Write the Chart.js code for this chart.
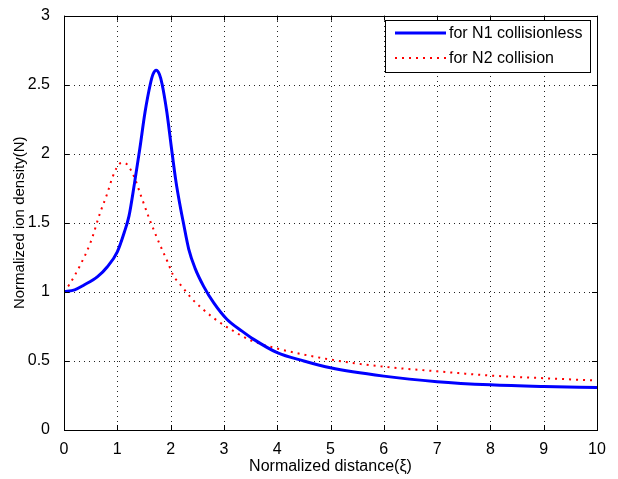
<!DOCTYPE html>
<html>
<head>
<meta charset="utf-8">
<script src="https://cdn.jsdelivr.net/npm/chart.js@4.4.1/dist/chart.umd.min.js"></script>
<style>
  html, body { margin: 0; padding: 0; background: #fff; }
  #wrap { position: relative; width: 618px; height: 479px; }
</style>
</head>
<body>
<div id="wrap"><canvas id="densityChart"></canvas></div>
<script>
// Series
const n1X = [0, 0.2, 0.376, 0.63, 0.81, 1.0, 1.13, 1.22, 1.32, 1.42, 1.52, 1.62, 1.67, 1.73, 1.79, 1.84, 1.93, 2.01, 2.1, 2.18, 2.24, 2.34, 2.46, 2.62, 2.81, 3.06, 3.34, 3.56, 4, 4.5, 5, 6, 7, 8, 9, 10];
const n1Y = [1.0, 1.015, 1.05, 1.11, 1.18, 1.29, 1.43, 1.55, 1.78, 2.03, 2.3, 2.505, 2.575, 2.605, 2.575, 2.505, 2.3, 2.06, 1.8, 1.62, 1.5, 1.31, 1.17, 1.04, 0.92, 0.8, 0.716, 0.656, 0.56, 0.5, 0.45, 0.39, 0.35, 0.327, 0.315, 0.308];
const n2X = [0, 0.094, 0.3, 0.5, 0.68, 0.81, 0.92, 1.05, 1.12, 1.19, 1.32, 1.44, 1.6, 1.79, 1.94, 2.05, 2.21, 2.4, 2.59, 2.81, 3.12, 3.5, 4, 5, 6, 7, 8, 9, 10];
const n2Y = [1.0, 1.05, 1.19, 1.36, 1.575, 1.71, 1.84, 1.93, 1.935, 1.92, 1.83, 1.7, 1.53, 1.35, 1.22, 1.12, 1.04, 0.95, 0.88, 0.81, 0.73, 0.65, 0.59, 0.51, 0.458, 0.425, 0.394, 0.375, 0.358];
const seriesNames = ['for N1 collisionless', 'for N2 collision'];
const xTitle = 'Normalized distance(\u03BE)';
const yTitle = 'Normalized ion density(N)';

const FONT = '"Liberation Sans", Arial, sans-serif';

function toPoints(xs, ys) {
    return xs.map((x, i) => ({ x: x, y: ys[i] }));
}

// dotted grid drawn under the curves
const dottedGrid = {
    id: 'dottedGrid',
    beforeDatasetsDraw(chart) {
        const ctx = chart.ctx;
        const a = chart.chartArea;
        const xs = chart.scales.x, ys = chart.scales.y;
        ctx.save();
        ctx.fillStyle = '#222';
        xs.ticks.forEach(t => {
            const px = Math.round(xs.getPixelForValue(t.value));
            for (let y = Math.round(a.top); y <= a.bottom; y += 5) ctx.fillRect(px, y, 1, 1);
        });
        ys.ticks.forEach(t => {
            const py = Math.round(ys.getPixelForValue(t.value));
            for (let x = Math.round(a.left); x <= a.right; x += 5) ctx.fillRect(x, py, 1, 1);
        });
        ctx.restore();
    }
};

// box, inward ticks and the legend, MATLAB style
const matlabFrame = {
    id: 'matlabFrame',
    afterDraw(chart) {
        const ctx = chart.ctx;
        const a = chart.chartArea;
        const xs = chart.scales.x, ys = chart.scales.y;
        ctx.save();
        ctx.strokeStyle = '#000';
        ctx.lineWidth = 1;
        ctx.setLineDash([]);
        ctx.strokeRect(Math.round(a.left) + 0.5, Math.round(a.top) + 0.5,
            Math.round(a.right - a.left), Math.round(a.bottom - a.top));
        const tl = 5;
        ctx.beginPath();
        xs.ticks.forEach(t => {
            const px = Math.round(xs.getPixelForValue(t.value)) + 0.5;
            ctx.moveTo(px, a.bottom); ctx.lineTo(px, a.bottom - tl);
            ctx.moveTo(px, a.top); ctx.lineTo(px, a.top + tl);
        });
        ys.ticks.forEach(t => {
            const py = Math.round(ys.getPixelForValue(t.value)) + 0.5;
            ctx.moveTo(a.left, py); ctx.lineTo(a.left + tl, py);
            ctx.moveTo(a.right, py); ctx.lineTo(a.right - tl, py);
        });
        ctx.stroke();

        // legend
        const bx = 385, by = 20, bw = 205, bh = 52;
        ctx.fillStyle = '#fff';
        ctx.fillRect(bx, by, bw, bh);
        ctx.strokeStyle = '#000';
        ctx.strokeRect(bx + 0.5, by + 0.5, bw, bh);
        const rows = [33, 58];
        chart.data.datasets.forEach((ds, i) => {
            ctx.save();
            ctx.strokeStyle = ds.borderColor;
            ctx.lineWidth = ds.borderWidth;
            ctx.setLineDash(ds.borderDash || []);
            ctx.beginPath();
            ctx.moveTo(395, rows[i]);
            ctx.lineTo(446, rows[i]);
            ctx.stroke();
            ctx.restore();
            ctx.fillStyle = '#000';
            ctx.font = '16px ' + FONT;
            ctx.textBaseline = 'middle';
            ctx.textAlign = 'left';
            ctx.fillText(seriesNames[i], 449, rows[i] + 1);
        });
        ctx.restore();
    }
};

const config = {
    type: 'line',
    data: {
        datasets: [{
            label: seriesNames[0],
            data: toPoints(n1X, n1Y),
            borderColor: '#0000ff',
            borderWidth: 3,
            pointRadius: 0,
            fill: false,
            cubicInterpolationMode: 'monotone'
        }, {
            label: seriesNames[1],
            data: toPoints(n2X, n2Y),
            borderColor: '#ff0000',
            borderWidth: 2,
            borderDash: [2, 5],
            pointRadius: 0,
            fill: false,
            cubicInterpolationMode: 'monotone'
        }]
    },
    options: {
        responsive: true,
        maintainAspectRatio: false,
        animation: false,
        layout: { padding: { top: 11, right: 21, left: 0, bottom: 0 } },
        plugins: {
            legend: { display: false },
            tooltip: { enabled: false }
        },
        scales: {
            x: {
                type: 'linear',
                min: 0,
                max: 10,
                ticks: { stepSize: 1, color: '#000', padding: 2, font: { family: FONT, size: 16 }, callback: v => String(v) },
                grid: { display: false },
                border: { display: false },
                title: { display: true, text: xTitle, color: '#000', padding: { top: 0, bottom: 3 }, font: { family: FONT, size: 16 } },
                afterFit: s => { s.height = 49; }
            },
            y: {
                min: 0,
                max: 3,
                ticks: { stepSize: 0.5, color: '#000', padding: 6, font: { family: FONT, size: 16 }, callback: v => String(v) },
                grid: { display: false },
                border: { display: false },
                title: { display: true, text: yTitle, color: '#000', padding: { top: 11, bottom: 0 }, font: { family: FONT, size: 15 } },
                afterFit: s => { s.width = 64; }
            }
        }
    },
    plugins: [dottedGrid, matlabFrame]
};

const ctx = document.getElementById('densityChart').getContext('2d');
new Chart(ctx, config);
</script>
</body>
</html>
